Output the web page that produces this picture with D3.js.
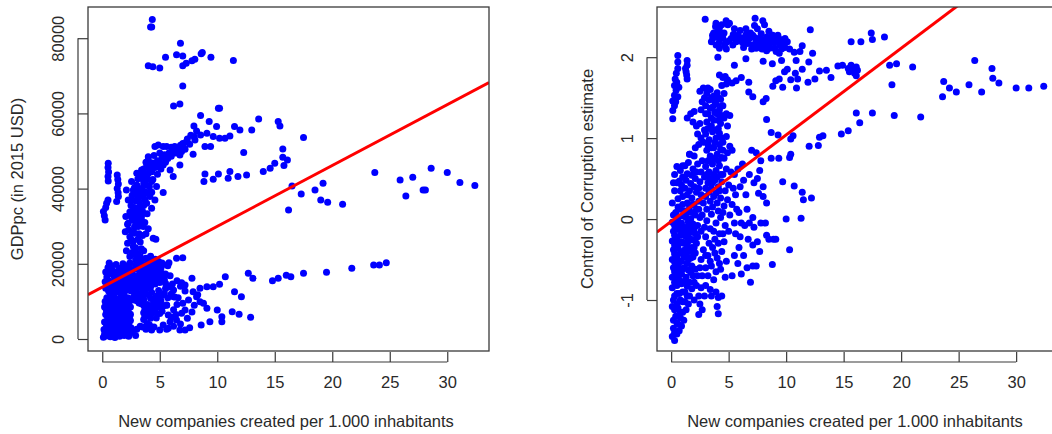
<!DOCTYPE html>
<html><head><meta charset="utf-8">
<script src="https://cdn.jsdelivr.net/npm/d3@7"></script>
<style>
body{margin:0;background:#fff;}
text{font-family:"Liberation Sans",Arial,sans-serif;font-size:16.5px;fill:#2a2a2a;}
</style></head>
<body>
<svg id="c" width="1052" height="434"></svg>
<script>
// ---------- DATA ----------
const xLabel = "New companies created per 1.000 inhabitants";
const yLabelLeft = "GDPpc (in 2015 USD)";
const yLabelRight = "Control of Corruption estimate";
const xTicks = [0, 5, 10, 15, 20, 25, 30];
const yTicksLeft = [0, 20000, 40000, 60000, 80000];
const yTicksRight = [-1, 0, 1, 2];
const fitLeft = [13790, 1618];   // intercept, slope
const fitRight = [-0.03, 0.107];

// GDP per capita vs new companies: sparse points
const gdpSparse = [
[4.35,85000],[4.3,83000],[4.2,83000],[4.0,72700],[4.4,72400],[5.0,72100],[5.5,74950],[6.46,75570],[6.8,78680],[7.0,75300],[7.0,72700],[7.3,73350],[7.8,73980],[8.05,74400],[8.6,75840],[8.7,76190],[9.45,74950],[11.4,74060],[7.0,67300],[6.2,62000],[6.75,62530],
[8.55,59430],[7.97,56680],[9.3,57830],[9.94,56500],[10.1,61380],[10.2,61380],[11.5,56500],[11.97,55600],[13.0,55600],[13.6,58540],[15.3,57830],[15.45,56680],[15.7,50560],[17.5,53570],[12.3,49580],[15.7,48340],[16.1,47630],[15.8,46120],[15.0,46740],[14.6,45410],[14.0,44530],[12.55,43640],[11.8,43200],[11.1,44530],[10.95,42750],[10.1,43900],[9.65,42490],[8.93,43900],[8.84,41870],[11.1,54020],[10.67,53400],[10.2,53400],[9.65,53840],[9.42,51180],[8.93,51180],[9.1,54730],[8.55,54290],[8.06,52960],[7.9,49140],[7.33,52510],[7.04,51180],[6.9,49850],[6.75,48960],[6.3,51180],[6.2,49850],[5.74,48960],[5.3,51180],[4.87,51620],[4.58,51180],[4.0,47630],[4.43,46300],[5.3,46300],[5.9,44970],[6.17,43200],[6.75,46300],[4.29,41870],[4.72,40540],[5.3,38940],[4.58,36990],[4.43,26790],[4.66,26520],
[23.7,44260],[25.9,42310],[27.0,43020],[28.6,45410],[30.0,44260],[31.1,41600],[32.4,40800],[26.4,38050],[27.9,39650],[28.1,39650],[16.5,40710],[16.2,34330],[17.3,38580],[18.5,39650],[19.2,41420],[19.0,36990],[19.6,36370],[20.9,35830],
[24.7,20310],[24.1,19690],[23.6,19690],[21.7,18800],[19.5,17740],[17.5,17470],[16.4,16590],[16.0,16940],[15.3,16140],[14.8,15520],[13.1,16140],[12.7,17470],[12.9,5770],[11.9,6560],[11.3,7270],[12.1,11260],[11.5,12600],[10.7,16590],[10.2,14550],[10.4,4610],[10.4,5940],[10.0,7720],[9.36,4610],[8.6,3730],[9.65,13930],[9.1,13930],[8.5,13480],[7.9,12600],[7.8,16140],[8.2,11260],[8.5,9930],[8.8,9490],[9.1,8160],[7.5,10380],[7.2,7720],[6.9,6830],[7.2,2390],[6.75,2390],[6.46,5060],[6.9,14990],[7.2,14370],[6.46,21470],[7.0,21640],[6.2,13040],[6.2,11260],[5.6,9050],[5.74,6390],[5.74,2840],[5.0,2390],[4.29,2390],[5.9,4610],[5.3,3730]
];
// rising band and left streaks
const gdpBand = [
[0.52,46740],[0.5,45600],[0.55,44400],[0.5,43200],[0.52,42050],[0.1,33880],[0.18,32800],[0.25,31660],[0.38,36100],[0.5,36990],[0.3,35000],
[1.3,43640],[1.35,42400],[1.4,41200],[1.3,40000],[1.38,38900],[1.4,37880],[1.25,36550],
[2.1,39650],[2.26,36990],[2.55,41870],[2.7,39650],[3.0,44080],[3.0,40980],[3.13,37880],[3.3,35210],[3.42,44970],[3.57,42310],[3.7,39200],[3.86,45860],[4.0,44080],[3.42,33000],[3.0,32550],[2.7,31660],[2.26,30780],[2.05,32550],[3.13,29890],[2.84,28120],[2.55,26340],[2.7,24570],[3.0,22800],[2.4,21910],[3.3,21910],[2.55,36990],[3.57,37880],[3.86,36100],[4.14,37880],[4.29,34770],[2.7,34330],[3.3,31660],[3.57,29890],
[2.0,28500],[2.4,27200],[2.8,29800],[3.2,28000],[2.2,30500],[2.6,31800],[3.0,33500],[3.4,32200],[2.4,33800],[2.8,35000],[3.2,36500],[3.6,35500],[2.6,38200],[3.0,38800],[3.4,40000],[3.8,41000],[3.1,42600],[3.5,43500],[3.9,42600],[4.3,44500],[4.6,45600],[4.2,46800],[4.8,47400],[5.2,48300],[5.5,47000],[5.8,49500],[6.2,50200],[6.6,50800],[7.0,52000],[7.4,53200],[7.7,54200],[8.2,55300],[5.0,49500],[5.6,51200],[6.0,48600],[4.5,48800],[3.8,47000],[3.6,45200],[4.1,40500],[4.4,42400],[4.8,43800],[5.1,45200],[2.9,24300],[3.3,25800],[3.6,23500],[3.1,22700],[2.6,23000],[3.7,31000],[3.9,33300],[4.0,29300],
[2.3,29000],[2.6,28200],[2.9,31000],[3.3,30500],[2.5,32800],[2.8,33200],[3.1,34500],[3.5,34000],[2.5,35500],[2.9,36800],[3.3,38000],[3.7,37000],[2.8,40200],[3.2,39300],[3.6,41200],[4.0,42500],[3.3,44000],[3.7,44000],[4.1,45500],[4.4,46800],[4.0,48500],[4.7,46200],[5.0,46800],[5.4,49000],[5.7,48000],[6.0,51000],[6.4,49500],[6.8,51500],[7.2,50500],[7.6,51800],[8.0,53800],[2.7,26000],[3.1,26500],[3.4,24000],[2.8,22500],[3.5,27500],[3.8,28000],[2.2,25500],[2.1,23500],[3.9,38800],[4.3,39000]
];
// dense low-income blob
const gdpBlob = [
[0.1,500],[0.2,1200],[0.3,800],[0.5,1500],[0.7,600],[0.9,1100],[1.1,400],[1.3,1300],[1.5,700],[1.7,1600],[1.9,900],[0.15,2500],[0.4,3000],[0.6,2200],[0.8,3500],[1.0,2700],[1.2,3200],[1.4,2400],[1.6,3800],[1.8,2900],[2.0,3300],[2.2,2100],[2.5,3000],[0.2,4500],[0.5,5200],[0.8,4300],[1.1,5600],[1.4,4800],[1.7,5900],[2.0,5000],[2.3,4200],[0.3,6500],[0.6,7200],[0.9,6800],[1.2,7600],[1.5,6400],[1.8,7900],[2.1,7000],[2.4,6200],[2.45,6600],[0.2,8500],[0.5,9300],[0.8,8800],[1.1,9800],[1.4,9100],[1.7,10200],[2.0,8600],[2.3,9600],[0.4,11000],[0.7,12000],[1.0,11500],[1.3,12600],[1.6,11200],[1.9,12300],[2.2,11000],[2.5,12800],[2.8,11600],[0.3,13500],[0.6,14200],[0.9,13800],[1.2,14800],[1.5,14000],[1.8,15200],[2.1,14400],[2.4,15600],[2.7,14000],[3.0,15000],[0.4,16500],[0.7,17400],[1.0,16800],[1.3,17800],[1.6,16300],[1.9,17500],[2.2,18200],[2.5,17000],[2.8,18600],[0.5,19000],[0.6,20200],[0.8,19500],[1.2,19800],[1.5,18800],[1.8,20000],[2.1,19400],[2.4,20200],
[3.0,12500],[3.2,13800],[3.4,12000],[3.6,14500],[3.8,13200],[4.0,15300],[4.2,13800],[4.4,16100],[4.6,14600],[4.8,16800],[5.0,15000],[5.2,17400],[5.4,15800],[3.1,16500],[3.3,17800],[3.5,16200],[3.7,18500],[3.9,17100],[4.1,19200],[4.3,17600],[4.5,20000],[4.7,18300],[4.9,20600],[5.1,18800],[5.3,19800],[5.5,17300],[3.2,19600],[3.4,20800],[3.6,19300],[3.8,21500],[4.0,20400],[4.2,22000],[4.4,21000],[4.6,19600],[2.9,21000],[3.0,10200],[3.2,9600],[3.6,10500],[3.9,9200],[4.2,10800],[4.5,9700],[4.8,11500],[5.1,10200],[5.4,12200],[5.7,11000],[3.7,7800],[4.0,6500],[4.3,8200],[4.6,7200],[4.9,8600],[5.2,7400],[3.6,5200],[3.9,4100],[4.2,5500],[4.5,3200],[2.45,4900],[3.0,2600],[2.6,1800],[2.9,900],[2.3,700],[5.6,9000],[5.8,13800],[5.5,14800],[6.0,12000],[5.7,19500],[5.9,16800],[6.1,14600],[6.3,11200],[6.5,9200],[6.2,7800],[5.8,20300],
[6.5,15500],[6.8,14000],[7.2,12800],[6.6,11000],[7.0,9500],[6.4,6500],[6.8,4000],[7.4,5500],[7.6,3000],[7.8,7200],[8.0,9000],[8.3,11800],[6.0,5800],[6.2,3400],[5.6,2600],
[0.25,1800],[0.55,2700],[0.85,1900],[1.15,3000],[1.45,1700],[1.75,2500],[2.05,1500],[2.35,2600],[0.35,4000],[0.65,3800],[0.95,4700],[1.25,4200],[1.55,5200],[1.85,4400],[2.15,5800],[0.45,5900],[0.75,5800],[1.05,6300],[1.35,5700],[1.65,7000],[1.95,6200],[2.25,7600],[0.35,7700],[0.65,8200],[0.95,7800],[1.25,8700],[1.55,8000],[1.85,9000],[2.15,8200],[2.45,8500],[0.25,10000],[0.55,10500],[0.85,10200],[1.15,10800],[1.45,10300],[1.75,11300],[2.05,10000],[2.35,10800],[2.65,10400],[0.55,12800],[0.85,12700],[1.15,13500],[1.45,12800],[1.75,13700],[2.05,13000],[2.35,14000],[2.65,12900],[0.25,15200],[0.55,15500],[0.85,15200],[1.15,16000],[1.45,15300],[1.75,16500],[2.05,15800],[2.35,16500],[2.65,15500],[2.95,16800],[0.3,17800],[0.55,18000],[0.9,18300],[1.4,17200],[1.7,18500],[2.0,18800],[2.3,19500],[2.6,18200],[2.9,19600],[3.3,15100],[3.5,13300],[3.7,15600],[3.9,14300],[4.1,16500],[4.3,15000],[4.5,17200],[4.7,15900],[4.9,18000],[5.1,16200],[5.3,17000],[3.2,18400],[3.4,19000],[3.6,17300],[3.8,19800],[4.0,18200],[4.2,20500],[4.4,19200],[4.6,21200],[4.8,19400],[5.0,20100],[5.2,20200],[3.1,11200],[3.3,10800],[3.5,11500],[3.7,12200],[4.0,11800],[4.3,12400],[4.6,11000],[4.9,12900],[5.2,11600],[5.5,13400],[3.4,9400],[3.6,9000],[3.9,7200],[4.1,8000],[4.4,9200],[4.7,8600],[5.0,9800],[5.3,8800],[3.6,7000],[3.7,5900],[3.8,6200],[4.3,6800],[4.7,5600],[5.0,6800],[3.5,3200],[3.8,2600],[4.1,3800],[3.3,3400]
];

// Control of corruption vs new companies: sparse points
const corrSparse = [
[23.7,1.70],[24.2,1.62],[24.8,1.57],[23.6,1.51],[25.9,1.66],[26.4,1.96],[27.0,1.57],[27.9,1.86],[27.97,1.74],[28.5,1.68],[30.0,1.62],[31.1,1.62],[32.4,1.64],
[17.4,2.30],[17.5,2.22],[18.55,2.25],[19.0,1.90],[19.6,1.92],[19.2,1.66],[19.4,1.28],[21.0,1.88],[21.7,1.26],[17.5,1.31],[16.1,1.31],[16.4,1.19],[15.4,1.09],[14.8,1.05],[15.65,2.19],[16.5,2.19],[14.5,1.89],[14.9,1.90],[15.4,1.86],[15.65,1.90],[15.95,1.86],[16.1,1.88],[16.2,1.84],[15.95,1.80],[15.5,1.82],[16.1,1.77],
[12.9,1.01],[13.2,1.03],[12.8,0.91],[12.0,0.90],[12.2,0.26],[11.5,0.24],[11.4,0.33],[10.7,0.41],[9.7,0.46],[11.3,0.01],[10.0,0.00],[10.3,-0.38],[8.8,-0.56],[10.4,0.99],[10.6,1.03],[10.4,0.80],[10.3,0.76],[9.36,0.75],[8.7,0.75],[8.7,1.07],[9.3,1.04],[8.3,1.23],[8.0,1.45],[8.26,1.49],
[12.9,1.83],[13.5,1.84],[13.9,1.75],[12.5,1.73],[11.9,1.69],[10.9,1.62],[10.4,1.72],[11.0,1.73],[9.7,1.63],[8.84,1.64],[9.1,1.71],[9.4,1.73],[9.86,1.82],[10.1,1.85],[10.8,1.80],[11.4,1.85],[11.97,1.94],[12.3,2.05],[12.1,2.34],[11.4,2.14],[11.2,2.07],[10.7,2.06],[10.87,1.96],[10.1,2.19],[9.9,2.23],[9.6,2.10],[9.6,1.96],[8.8,1.92],[8.0,1.95],[7.97,2.45],[7.3,2.48],[7.25,2.39],[6.5,2.35],[5.65,2.23],[4.78,2.45],[4.93,2.40],[3.9,2.42],[2.96,2.47],[4.06,2.32],[3.6,2.27],[3.5,2.19],[4.06,2.00],[5.5,1.90],[6.5,1.98],[5.65,1.71],[6.1,1.75],[6.75,1.69],[6.75,1.57],[7.1,1.51],[4.2,1.78],[4.7,1.76],[4.8,1.67],
[3.62,2.23],[4.2,2.19],[4.49,2.24],[4.78,2.18],[5.22,2.23],[5.65,2.19],[6.09,2.24],[6.52,2.28],[6.81,2.23],[7.1,2.27],[7.39,2.19],[7.68,2.23],[7.83,2.29],[8.12,2.21],[8.41,2.19],[8.7,2.25],[8.99,2.19],[9.28,2.27],[9.42,2.15],[8.99,2.11],[8.55,2.11],[8.12,2.15],[7.68,2.13],[7.39,2.11],[7.1,2.15],[6.67,2.17],[6.38,2.23],[5.94,2.21],[5.36,2.15],[4.64,2.15],[4.2,2.11],[3.91,2.15],[4.2,2.36],[3.86,2.38],[4.35,2.29],[5.07,2.42],[8.12,2.40],[8.84,2.27],[9.71,2.17],[9.13,2.07],
[3.7,2.30],[4.0,2.25],[4.6,2.30],[5.0,2.20],[5.4,2.28],[5.8,2.27],[6.2,2.18],[6.6,2.20],[6.9,2.30],[7.3,2.24],[7.6,2.17],[7.9,2.22],[8.3,2.25],[8.6,2.17],[8.9,2.23],[9.2,2.20],[9.5,2.22],[8.3,2.08],[7.9,2.10],[9.4,2.05],[7.0,2.10],[6.3,2.12],[5.5,2.35],[6.0,2.33],[7.5,2.35],[8.5,2.32],[9.9,2.12],[10.3,2.10],[4.4,2.40],[4.8,2.10],
[0.58,2.02],[0.58,1.94],[0.58,1.86],[0.35,1.73],[0.29,1.65],[0.43,1.59],[0.29,1.53],[0.14,1.46],[0.29,1.40],[0.14,1.34],[0.14,1.24],[0.49,1.69],[0.67,1.63],[0.58,1.51],[0.4,1.45],[0.45,1.80],
[1.39,1.96],[1.39,1.90],[1.3,1.82],[1.39,1.73],[1.25,1.86],[1.35,1.78]
];
// dense mass of low/mid values
const corrMass = [
[0.1,-1.45],[0.3,-1.50],[0.5,-1.42],[0.2,-1.35],[0.6,-1.30],[0.9,-1.32],[1.1,-1.25],[0.4,-1.20],[0.8,-1.15],[1.3,-1.12],[0.1,-1.08],[0.5,-1.05],[1.0,-1.02],[1.5,-1.05],[0.3,-0.95],[0.7,-0.92],[1.2,-0.90],[1.6,-0.95],[0.1,-0.85],[0.5,-0.82],[0.9,-0.80],[1.4,-0.83],[1.8,-0.86],[2.2,-0.82],[2.6,-0.85],[3.0,-0.82],[3.4,-0.87],[2.0,-1.0],[2.5,-1.05],[2.7,-1.12],[2.4,-1.18],[3.9,-0.90],[4.1,-0.97],[4.4,-0.95],[4.0,-1.08],[4.1,-1.17],[3.5,-0.95],
[0.1,-0.72],[0.5,-0.70],[0.9,-0.68],[1.3,-0.72],[1.7,-0.66],[2.1,-0.62],[2.5,-0.60],[0.2,-0.60],[0.6,-0.58],[1.0,-0.62],[1.4,-0.55],[1.8,-0.58],[0.1,-0.50],[0.5,-0.47],[0.9,-0.52],[1.3,-0.45],[1.7,-0.48],[2.1,-0.42],[0.2,-0.38],[0.6,-0.36],[1.0,-0.40],[1.4,-0.33],[1.8,-0.35],[2.2,-0.30],[0.1,-0.27],[0.5,-0.25],[0.9,-0.28],[1.3,-0.22],[1.7,-0.25],[2.1,-0.18],[0.2,-0.15],[0.6,-0.13],[1.0,-0.16],[1.4,-0.10],[1.8,-0.12],[2.3,-0.08],[0.1,-0.04],[0.5,-0.02],[0.9,-0.05],[1.3,0.02],[1.7,0.00],[2.1,0.05],[2.5,0.02],
[0.4,0.08],[0.8,0.12],[1.2,0.10],[1.6,0.15],[2.0,0.18],[2.4,0.12],[2.8,0.20],[0.6,0.25],[1.0,0.28],[1.4,0.30],[1.8,0.26],[2.2,0.33],[2.6,0.30],[3.0,0.28],[0.5,0.45],[0.9,0.42],[1.3,0.48],[1.7,0.44],[2.1,0.50],[2.5,0.46],[2.9,0.52],[0.8,0.60],[1.2,0.66],[1.5,0.70],[1.9,0.62],[2.3,0.68],[2.7,0.72],[1.6,0.80],[2.0,0.78],[0.3,0.55],[0.5,0.65],[0.3,0.35],[0.1,0.20],[0.2,0.45],
[1.4,1.25],[1.7,1.30],[2.0,1.33],[1.9,1.20],[2.2,1.15],[2.5,1.18],[2.3,1.05],[2.6,1.00],[2.4,0.92],[2.8,0.95],[2.1,0.88],[2.9,1.10],[3.1,1.20],
[2.5,1.58],[2.8,1.62],[3.1,1.55],[3.4,1.60],[3.7,1.52],[4.0,1.56],[4.3,1.48],[4.6,1.55],[2.7,1.45],[3.0,1.40],[3.3,1.47],[3.6,1.38],[3.9,1.42],[4.2,1.35],[4.5,1.40],[4.8,1.30],[3.2,1.30],[3.5,1.25],[3.8,1.32],[4.1,1.22],[4.4,1.28],[4.9,1.15],[5.1,1.28],[2.6,1.35],[4.4,1.65],[4.9,1.72],[5.3,1.68],[4.5,1.75],
[3.0,1.05],[3.3,0.98],[3.6,1.08],[3.9,1.00],[4.2,1.06],[4.5,0.95],[4.8,1.02],[5.1,0.90],[3.1,0.85],[3.4,0.78],[3.7,0.88],[4.0,0.80],[4.3,0.86],[4.6,0.75],[4.9,0.82],[5.3,0.85],[3.0,0.65],[3.3,0.58],[3.6,0.68],[3.9,0.60],[4.2,0.66],[4.5,0.55],[4.8,0.62],[5.2,0.58],[3.2,0.45],[3.5,0.38],[3.8,0.48],[4.1,0.40],[4.4,0.46],[4.7,0.35],[5.0,0.42],[5.4,0.38],[3.4,0.22],[3.7,0.28],[4.0,0.20],[4.3,0.26],[4.6,0.16],[4.9,0.24],[5.3,0.18],[5.6,0.30],
[2.7,0.05],[3.1,-0.02],[3.5,0.06],[3.9,-0.05],[4.3,0.02],[4.7,-0.08],[5.1,0.05],[5.5,-0.05],[5.9,0.08],[2.6,-0.15],[3.0,-0.22],[3.4,-0.12],[3.8,-0.25],[4.2,-0.18],[4.6,-0.28],[5.0,-0.15],[2.8,-0.38],[3.2,-0.45],[3.6,-0.35],[4.0,-0.48],[4.4,-0.40],[4.8,-0.52],[3.0,-0.60],[3.5,-0.58],[3.9,-0.65],[4.3,-0.62],[4.7,-0.72],[5.5,-0.45],[5.3,-0.70],[5.8,-0.55],[6.1,-0.68],[5.9,-0.35],[6.3,-0.45],[6.6,-0.60],[7.1,-0.58],[7.4,-0.58],[6.9,-0.78],[5.6,-0.18],[6.0,-0.22],[6.4,-0.08],[6.8,-0.05],[7.2,-0.10],[6.7,-0.25],[7.1,-0.32],[7.5,-0.28],[7.8,-0.05],[8.2,-0.05],[8.5,-0.25],[8.9,-0.25],[9.1,-0.25],[7.7,-0.40],[8.3,-0.20],
[5.5,0.55],[6.0,0.40],[5.8,0.62],[6.3,0.48],[6.5,0.30],[6.8,0.55],[7.2,0.45],[7.5,0.50],[7.0,0.85],[7.4,0.82],[7.7,0.60],[8.0,0.40],[8.0,0.28],[8.3,0.20],[7.6,0.32],[6.2,0.68],[6.6,0.12],[7.1,0.02],[6.1,-0.05],[7.8,0.72],[5.7,0.12],[1.6,0.80],[1.0,0.66],[0.72,0.47],
[0.3,-1.40],[0.7,-1.38],[0.2,-1.25],[0.5,-1.28],[0.8,-1.22],[1.0,-1.15],[0.3,-1.12],[0.6,-1.10],[1.2,-1.02],[0.2,-1.00],[0.8,-1.00],[0.5,-0.92],[1.0,-0.90],[1.4,-0.95],[0.3,-0.78],[0.7,-0.75],[1.1,-0.77],[1.6,-0.78],[2.0,-0.78],[0.3,-0.65],[0.7,-0.64],[1.1,-0.60],[1.5,-0.63],[1.9,-0.70],[2.3,-0.70],[0.3,-0.53],[0.7,-0.53],[1.1,-0.47],[1.5,-0.50],[1.9,-0.47],[0.3,-0.43],[0.8,-0.42],[1.2,-0.38],[1.6,-0.40],[2.0,-0.35],[0.3,-0.32],[0.7,-0.30],[1.1,-0.30],[1.5,-0.27],[1.9,-0.26],[2.3,-0.22],[0.3,-0.20],[0.8,-0.20],[1.2,-0.17],[1.6,-0.17],[2.0,-0.12],[0.3,-0.08],[0.7,-0.08],[1.1,-0.10],[1.5,-0.04],[1.9,-0.06],[0.2,0.05],[0.6,0.02],[1.0,0.04],[1.4,0.08],[1.8,0.08],[2.2,0.12],[0.6,0.15],[1.0,0.18],[1.4,0.20],[1.8,0.18],[2.4,0.22],[0.8,0.35],[1.2,0.38],[1.6,0.35],[2.0,0.40],[2.4,0.38],[1.0,0.52],[1.4,0.56],[1.8,0.54],[2.2,0.58],[2.6,0.58],
[2.9,1.50],[3.2,1.62],[3.5,1.50],[3.8,1.45],[4.1,1.50],[4.4,1.40],[3.0,1.30],[3.4,1.37],[3.7,1.22],[4.0,1.30],[4.3,1.18],[4.6,1.25],[3.2,1.12],[3.5,1.15],[3.8,1.10],[4.1,1.12],[4.4,1.00],[3.2,0.92],[3.5,0.88],[3.8,0.95],[4.2,0.92],[4.5,0.85],[3.2,0.72],[3.5,0.70],[3.8,0.75],[4.1,0.72],[4.4,0.76],[3.1,0.55],[3.4,0.50],[3.7,0.55],[4.0,0.52],[4.3,0.55],[3.0,0.38],[3.3,0.33],[3.6,0.45],[3.9,0.32],[4.2,0.35],[3.1,0.12],[3.6,0.15],[4.1,0.10],[4.5,0.08],[2.9,-0.10],[3.3,-0.30],[3.7,-0.15],[4.1,-0.30],[4.5,-0.18],[3.0,-0.45],[3.4,-0.52],[3.8,-0.42],[4.2,-0.55],[2.6,-0.50],[2.7,-0.70],[3.2,-0.70],[3.7,-0.75],[2.4,-0.95],[2.9,-0.95]
];

// ---------- DRAW ----------
const svg = d3.select("#c");
const gdpAll = gdpSparse.concat(gdpBand, gdpBlob);
const corrAll = corrSparse.concat(corrMass);

function panel(o){
  const x = d3.scaleLinear().domain(o.xDom).range([o.left, o.right]);
  const y = d3.scaleLinear().domain(o.yDom).range([o.bottom, o.top]);
  const g = svg.append("g");
  const clipId = "clip" + o.id;
  svg.append("clipPath").attr("id", clipId).append("rect")
    .attr("x", o.left).attr("y", o.top).attr("width", o.right - o.left).attr("height", o.bottom - o.top);
  g.append("g").selectAll("circle").data(o.data).join("circle")
    .attr("cx", d => x(d[0])).attr("cy", d => y(d[1])).attr("r", 3.5).attr("fill", "#0000ff");
  const [a, b] = o.fit;
  g.append("line").attr("clip-path", `url(#${clipId})`)
    .attr("x1", x(o.xDom[0])).attr("y1", y(a + b*o.xDom[0]))
    .attr("x2", x(o.xDom[1])).attr("y2", y(a + b*o.xDom[1]))
    .attr("stroke", "#ff0000").attr("stroke-width", 3);
  g.append("rect").attr("x", o.left).attr("y", o.top).attr("width", o.right - o.left).attr("height", o.bottom - o.top)
    .attr("fill", "none").attr("stroke", "#3a3a3a").attr("stroke-width", 1.3);
  const xa = g.append("g").attr("transform", `translate(0,${o.bottom + 11})`)
    .call(d3.axisBottom(x).tickValues(xTicks).tickSizeInner(-10).tickSizeOuter(0).tickFormat(d3.format("d")));
  xa.select(".domain").attr("d", `M${x(xTicks[0])},0H${x(xTicks[xTicks.length-1])}`).attr("stroke", "#3a3a3a").attr("stroke-width", 1.2);
  xa.selectAll(".tick line").attr("stroke", "#3a3a3a").attr("stroke-width", 1.2);
  xa.selectAll(".tick text").remove();
  xa.selectAll(".tick").append("text").attr("y", 26).attr("text-anchor", "middle").text(d => d);
  const ya = g.append("g").attr("transform", `translate(${o.left - 10},0)`)
    .call(d3.axisLeft(y).tickValues(o.yTicks).tickSizeInner(-10).tickSizeOuter(0));
  ya.select(".domain").attr("d", `M0,${y(o.yTicks[0])}V${y(o.yTicks[o.yTicks.length-1])}`).attr("stroke", "#3a3a3a").attr("stroke-width", 1.2);
  ya.selectAll(".tick line").attr("stroke", "#3a3a3a").attr("stroke-width", 1.2);
  ya.selectAll(".tick text").remove();
  ya.selectAll(".tick").append("text")
    .attr("transform", `translate(${o.yLabX - (o.left - 10)},0) rotate(-90)`)
    .attr("dy", "0.36em").attr("text-anchor", "middle").text(d => d);
  svg.append("text").attr("x", o.xTitleX).attr("y", 427).attr("text-anchor", "middle").text(xLabel);
  svg.append("text").attr("transform", `translate(${o.yTitleX},${(o.top+o.bottom)/2}) rotate(-90)`)
    .attr("text-anchor", "middle").text(o.yTitle);
}

panel({id:"L", data: gdpAll, xDom:[-1.24, 33.63], yDom:[-3190, 88300], left:88, right:489, top:7, bottom:351,
  fit: fitLeft, yTicks: yTicksLeft, yLabX: 58.3, xTitleX: 286, yTitleX: 23.3, yTitle: yLabelLeft});
panel({id:"R", data: corrAll, xDom:[-1.23, 33.64], yDom:[-1.63, 2.62], left:657, right:1058, top:7, bottom:351,
  fit: fitRight, yTicks: yTicksRight, yLabX: 627, xTitleX: 855, yTitleX: 592.8, yTitle: yLabelRight});
</script>
</body></html>
